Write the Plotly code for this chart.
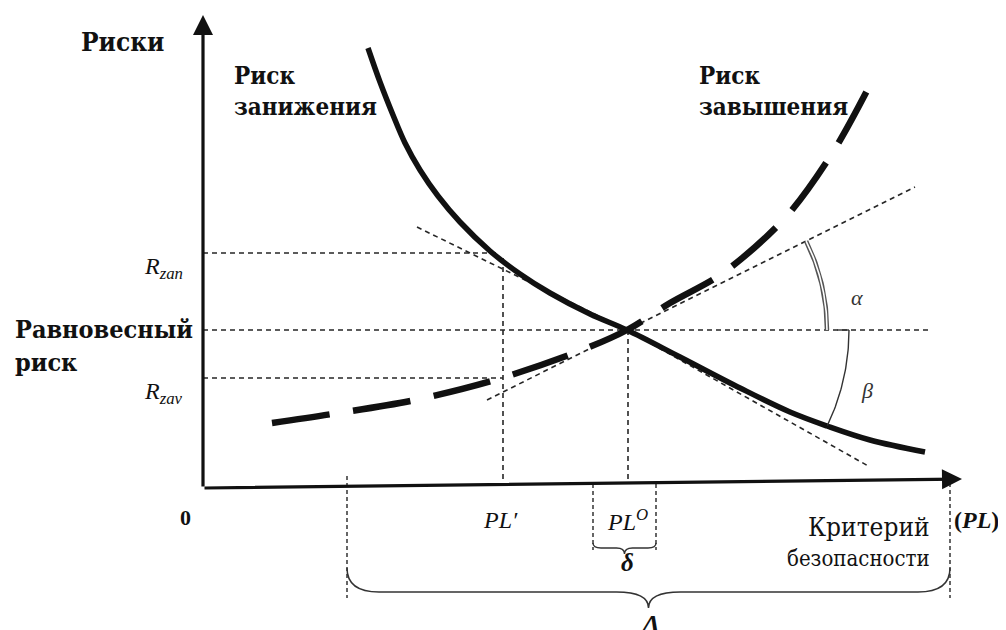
import numpy as np
import plotly.graph_objects as go

# ---------------- data (PL on x, risk on y, origin at axes corner) ----------------
pl_under = [165, 177, 190, 202, 217, 235, 257, 287, 317, 347, 387, 424, 477, 537, 587, 624, 667, 722]
risk_under = [440, 406, 373, 345, 318, 292, 266, 237, 214, 195, 174, 158, 131, 100, 76, 62, 48, 36]

pl_over = [69, 129, 212, 292, 374, 424, 467, 520, 582, 630, 667]
risk_over = [65, 74, 88, 108, 136, 158, 185, 215, 270, 336, 403]

tan_under_pl = [214, 424, 667]
tan_under_r = [261, 158, 21]
tan_over_pl = [284, 424, 712]
tan_over_r = [88, 158, 301]

PL_prime = 300
PL_O = 424
R_eq = 158
R_zan = 235
R_zav = 110
eq_line_end = 727
delta_bounds = [390, 453]
Delta_bounds = [144, 747]

x_axis_end = [759, 9]
y_axis_end = [0, 473]

# page body has an 8px margin: figure is 998x622 placed at (8,8)
X_RANGE = [-195, 803]
Y_RANGE = [-142, 480]

SERIF = "'Liberation Serif', 'Times New Roman', Times, serif"
CYR = "'DejaVu Serif Condensed', 'DejaVu Serif', serif"
INK = "#111111"
THIN = dict(color="#262626", width=1.6, dash="5px,4px")

fig = go.Figure()


def line(x, y, **kw):
    fig.add_trace(go.Scatter(x=x, y=y, mode="lines", hoverinfo="skip",
                             showlegend=False, **kw))


# thin dashed guide lines
line([0, eq_line_end], [R_eq, R_eq], line=THIN)
line([0, PL_prime - 3], [R_zan, R_zan], line=THIN)
line([0, PL_prime], [R_zav, R_zav], line=THIN)
line([PL_prime, PL_prime], [R_zan - 5, 2], line=THIN)
line([PL_O + 1, PL_O + 1], [R_eq, 6], line=THIN)
line(tan_under_pl, tan_under_r, line=THIN)
line(tan_over_pl, tan_over_r, line=THIN)
for xb in delta_bounds:
    line([xb, xb], [4, -62], line=dict(color="#262626", width=1.4, dash="4px,3px"))
for xb in Delta_bounds:
    line([xb, xb], [12, -110], line=dict(color="#262626", width=1.4, dash="4px,3px"))

# curves
line(pl_under, risk_under, line=dict(color=INK, width=5.5, shape="spline", smoothing=1.0))
line(pl_over, risk_over, line=dict(color=INK, width=6.5, shape="spline", smoothing=0.9,
                                   dash="58px,24px"))

# angle arcs
ang_a = np.arctan((tan_over_r[2] - tan_over_r[1]) / (tan_over_pl[2] - tan_over_pl[1]))
t = np.linspace(0, ang_a, 40)
ra = 200
line(PL_O + ra * np.cos(t), R_eq + ra * np.sin(t), line=dict(color="#555555", width=4.5))
line(PL_O + ra * np.cos(t), R_eq + ra * np.sin(t), line=dict(color="white", width=1.6))
rb = 222
t = np.linspace(0, -np.radians(25.5), 40)
line(PL_O + rb * np.cos(t), R_eq + rb * np.sin(t), line=dict(color="#333333", width=1.4))
line([PL_O + rb - 12, PL_O + rb], [R_eq, R_eq], line=dict(color="#333333", width=1.4))


# braces (quadratic Bezier paths)
def brace(x0, x1, y_top, y_mid, y_tip, r):
    xm = (x0 + x1) / 2
    return (f"M {x0},{y_top} Q {x0},{y_mid} {x0 + r},{y_mid} L {xm - r},{y_mid} "
            f"Q {xm},{y_mid} {xm},{y_tip} Q {xm},{y_mid} {xm + r},{y_mid} "
            f"L {x1 - r},{y_mid} Q {x1},{y_mid} {x1},{y_top}")


shapes = [
    dict(type="path", xref="x", yref="y",
         path=brace(Delta_bounds[0], Delta_bounds[1], -80, -104, -120, 32),
         line=dict(color="#333333", width=1.5)),
    dict(type="path", xref="x", yref="y",
         path=brace(delta_bounds[0], delta_bounds[1], -55, -60, -66, 8),
         line=dict(color="#333333", width=1.4)),
]

ann = []
# axes with arrows
for end in (x_axis_end, y_axis_end):
    ann.append(dict(x=end[0], y=end[1], ax=0, ay=0, xref="x", yref="y", axref="x", ayref="y",
                    showarrow=True, arrowhead=2, arrowsize=1.25, arrowwidth=3.2,
                    arrowcolor=INK, text="", standoff=0))


def txt(x, y, s, size, xanchor="center", bold=False, italic=False, color=INK,
        yanchor="middle", family=SERIF):
    if italic:
        s = f"<i>{s}</i>"
    if bold:
        s = f"<b>{s}</b>"
    ann.append(dict(x=x, y=y, text=s, showarrow=False, xref="x", yref="y",
                    xanchor=xanchor, yanchor=yanchor, align="left" if xanchor == "left" else
                    ("right" if xanchor == "right" else "center"),
                    font=dict(family=family, size=size, color=color)))


txt(-81, 446, "Риски", 26, bold=True, family=CYR)
txt(29, 397, "Риск<br>занижения", 24, xanchor="left", bold=True, family=CYR)
txt(494, 397, "Риск<br>завышения", 24, xanchor="left", bold=True, family=CYR)
txt(-190, 142, "Равновесный<br>риск", 25, xanchor="left", bold=True, family=CYR)
txt(-18, 220, "<i>R</i><sub><i>zan</i></sub>", 24, xanchor="right")
txt(-18, 95, "<i>R</i><sub><i>zav</i></sub>", 24, xanchor="right")
txt(-18, -29, "0", 22, bold=True)
txt(297, -32, "PL′", 24, italic=True)
txt(424, -32, "<i>PL</i><sup><i>O</i></sup>", 24)
txt(749, -32, "<b>(</b><b><i>PL</i></b><b>)</b>", 24, xanchor="left")
txt(729, -39, "Критерий", 26, xanchor="right", family=CYR)
txt(729, -70, "безопасности", 22, xanchor="right", family=CYR)
txt(424, -74, "δ", 25, bold=True, italic=True)
txt(445, -140, "Δ", 38, italic=True)
txt(654, 191, "α", 22, italic=True, color="#333333")
txt(664, 98, "β", 22, italic=True, color="#333333")

fig.update_layout(
    width=998, height=622,
    margin=dict(l=0, r=0, t=0, b=0),
    paper_bgcolor="white", plot_bgcolor="white",
    xaxis=dict(range=X_RANGE, visible=False, fixedrange=True),
    yaxis=dict(range=Y_RANGE, visible=False, fixedrange=True),
    shapes=shapes, annotations=ann, showlegend=False,
)

fig.write_html("out.html")
